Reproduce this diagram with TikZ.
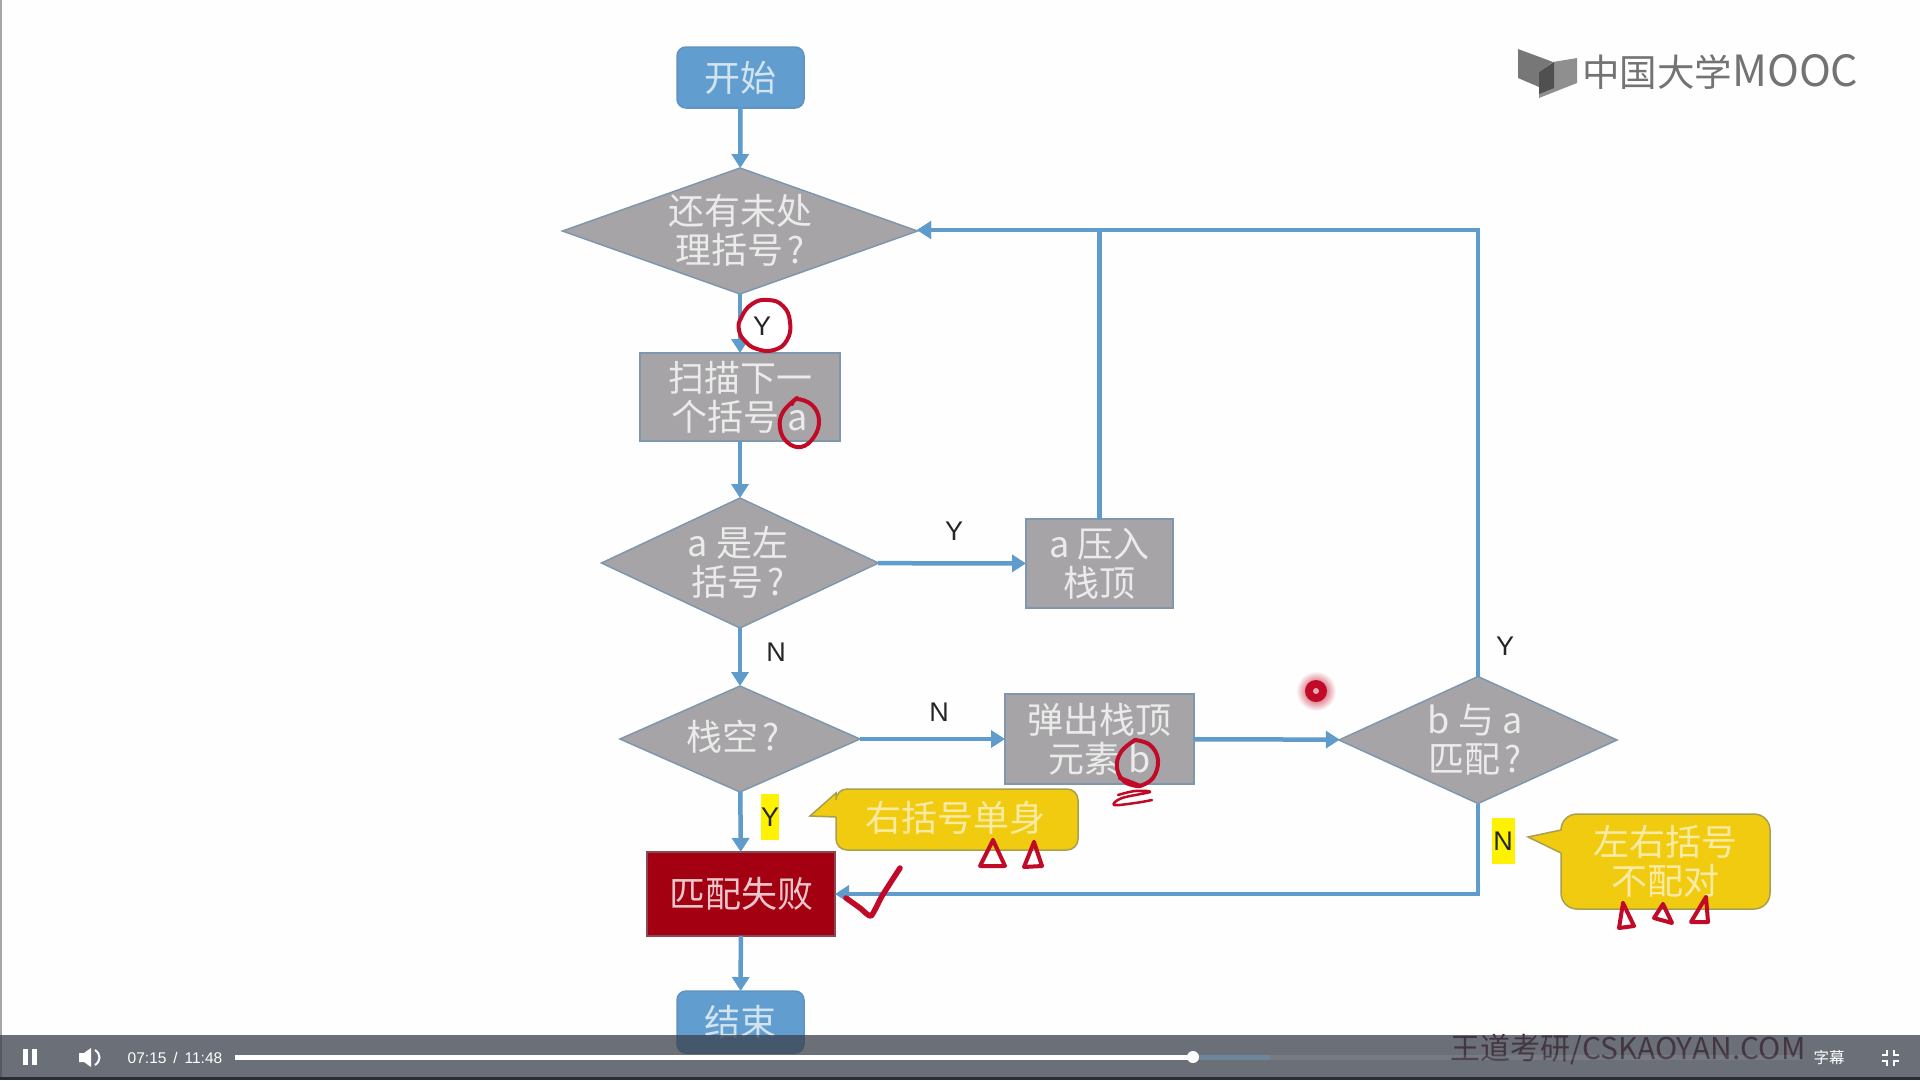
\documentclass[tikz,border=0pt]{standalone}
\usepackage{fontspec}
\setmainfont{Noto Sans CJK SC}
\newfontfamily\latinf{Liberation Sans}
\usetikzlibrary{shapes.geometric,arrows.meta,calc}
\definecolor{flowblue}{HTML}{5F9BCB}
\definecolor{nodegray}{HTML}{A6A4A6}
\definecolor{edgeblue}{HTML}{7E97AE}
\definecolor{termblue}{HTML}{619ECF}
\definecolor{termedge}{HTML}{5E93C2}
\definecolor{failred}{HTML}{A30012}
\definecolor{failedge}{HTML}{8A4A55}
\definecolor{callfill}{HTML}{F1CB10}
\definecolor{calledge}{HTML}{A8A050}
\definecolor{ink}{HTML}{C00A28}
\definecolor{barc}{HTML}{3B404B}
\definecolor{wmark}{HTML}{5E1824}
\definecolor{pagebg}{HTML}{FEFEFE}
\definecolor{logoa}{HTML}{777777}
\definecolor{logob}{HTML}{8F8F8F}
\definecolor{logoc}{HTML}{505050}
\newcommand{\qgap}{\hspace{4pt}}
\tikzset{
  x=1pt,y=-1pt,
  base/.style={inner sep=0pt,outer sep=0pt,align=center,font=\fontsize{36}{39}\selectfont},
  graybox/.style={base,rectangle,draw=edgeblue,line width=1.5pt,fill=nodegray,text=white!78!nodegray},
  dia/.style={shape=diamond,inner sep=0pt,outer sep=0pt,draw=edgeblue,line width=1.5pt,fill=nodegray},
  diatext/.style={base,text=white!78!nodegray},
  term/.style={base,rectangle,rounded corners=9pt,draw=termedge,line width=1.5pt,fill=termblue,text=white!72!termblue},
  failbox/.style={base,rectangle,draw=failedge,line width=1.5pt,fill=failred,text=white!78!failred},
  flow/.style={draw=flowblue,line width=4.5pt,-{Triangle[width=17pt,length=14pt]}},
  lab/.style={inner sep=0pt,font=\latinf\fontsize{27}{27}\selectfont,text=black!85},
  hilite/.style={fill=yellow,minimum width=#1,minimum height=46pt,inner sep=0pt,font=\latinf\fontsize{27}{27}\selectfont,text=black!85},
  callshape/.style={fill=callfill,draw=calledge,line width=1.5pt},
  calltext/.style={base,text=white!62!callfill},
  inkline/.style={draw=ink,line width=4pt,line cap=round,line join=round},
  ctl/.style={inner sep=0pt,text=white,font=\latinf\fontsize{15.5}{16}\selectfont},
}
\begin{document}
\begin{tikzpicture}
\useasboundingbox (0,0) rectangle (1920,1080);
\fill[pagebg] (0,0) rectangle (1920,1080);
\fill[gray!70] (0,0) rectangle (2,1080);
% logo
\fill[logoa] (1518,49)--(1553,62)--(1539,72)--(1539,87)--(1518,78)--cycle;
\fill[logob] (1553,62)--(1577,58)--(1577,83)--(1539,98)--(1539,72)--cycle;
\fill[logoc] (1539,72)--(1554,62)--(1554,88)--(1539,94)--cycle;
\node[inner sep=0pt,anchor=west,text=black!55,font=\fontsize{37.5}{38}\selectfont] (logotext) at (1582,72) {中国大学{\fontsize{43}{38}\selectfont MOOC}};
% nodes
\node[term,minimum width=127pt,minimum height=61pt] (start) at (740.5,77.5) {开始};
\node[dia,minimum width=355pt,minimum height=126pt,aspect=2.82] (d1) at (740,231) {};
\node[diatext] (d1t) at (740,230) {还有未处\\理括号\qgap ?};
\node[graybox,minimum width=200pt,minimum height=88pt] (scan) at (740,397) {扫描下一\\个括号 a};
\node[dia,minimum width=277pt,minimum height=130pt,aspect=2.13] (d2) at (740,563) {};
\node[diatext] (d2t) at (738,562) {a 是左\\括号\qgap ?};
\node[graybox,minimum width=147pt,minimum height=89pt] (push) at (1099.5,563.5) {a 压入\\栈顶};
\node[dia,minimum width=240pt,minimum height=106pt,aspect=2.26] (d3) at (740,739) {};
\node[diatext] (d3t) at (733,737) {栈空\qgap ?};
\node[graybox,minimum width=189pt,minimum height=90pt] (pop) at (1099.5,739) {弹出栈顶\\元素 b};
\node[dia,minimum width=278pt,minimum height=127pt,aspect=2.19] (d4) at (1478,740) {};
\node[diatext] (d4t) at (1475,740) {b 与 a\\匹配\qgap ?};
\node[failbox,minimum width=188pt,minimum height=84pt] (fail) at (741,894) {匹配失败};
\node[term,minimum width=127pt,minimum height=62pt] (end) at (740.5,1022) {结束};
% connectors
\coordinate (d1in) at (917,230);
\coordinate (failin) at (835,894);
\draw[flow] (start) -- (d1);
\draw[flow] (d1) -- (scan);
\draw[flow] (scan) -- (d2);
\draw[flow] (d2) -- (push);
\draw[flow] (d2) -- (d3);
\draw[flow] (d3) -- (pop);
\draw[flow] (pop) -- (d4);
\draw[flow] (d3) -- (fail);
\draw[flow] (fail) -- (end);
\draw[flow] (push.north) |- (d1in);
\draw[flow] (d4.north) |- (d1in);
\draw[flow] (d4.south) |- (failin);
% labels
\node[lab] (ly2) at (954,531) {Y};
\node[lab] (ln1) at (776,652) {N};
\node[lab] (ln2) at (939,712) {N};
\node[lab] (ly3) at (1505,646) {Y};
\node[hilite=18pt] (ly4) at (770,817) {Y};
\node[hilite=23pt] (ln3) at (1503,841) {N};
% callouts
\draw[callshape] (836,817) [sharp corners] -- (810,816) -- (836,793) [rounded corners=11pt] -- (836,789) -- (1078,789) -- (1078,850) -- (836,850) -- (836,817);
\node[calltext] (c1) at (955,818) {右括号单身};
\draw[callshape] (1561,853) [sharp corners] -- (1528,837) -- (1561,830) [rounded corners=16pt] -- (1561,814) -- (1770,814) -- (1770,909) -- (1561,909) -- (1561,853);
\node[calltext] (c2) at (1665,861) {左右括号\\不配对};
% handwritten marks
\filldraw[inkline,fill=white] plot[smooth cycle,tension=.8] coordinates {(741,318) (752,304) (768,300) (783,306) (790,322) (787,340) (774,350) (757,349) (745,341) (739,330)};
\node[lab] (ly1) at (762,326) {Y};
\draw[inkline] plot[smooth,tension=.7] coordinates {(797,398) (783,412) (780,428) (787,442) (801,447) (814,437) (819,420) (812,405) (797,399) (792,404)};
\draw[inkline] plot[smooth,tension=.7] coordinates {(1135,740) (1121,752) (1117,768) (1125,782) (1140,786) (1120,778)};
\draw[inkline] plot[smooth,tension=.7] coordinates {(1135,740) (1150,745) (1158,760) (1153,778) (1140,786)};
\draw[inkline,line width=2.5pt] plot[smooth,tension=.6] coordinates {(1118,795) (1135,791) (1150,792) (1122,798) (1114,805) (1135,803) (1152,800)};
\draw[inkline] (993,840) -- (1005,866) -- (980,866) -- (993,840);
\draw[inkline] (1034,842) -- (1042,866) -- (1024,867) -- (1034,842);
\draw[inkline] (1623,903) -- (1634,926) -- (1619,928) -- (1623,903);
\draw[inkline] (1663,904) -- (1672,923) -- (1654,918) -- (1663,904);
\draw[inkline] (1706,897) -- (1708,922) -- (1691,922) -- (1706,897);
\draw[inkline,line width=5.5pt] plot[smooth,tension=.3] coordinates {(846,898) (860,908) (871,916) (882,896) (900,868)};
% laser pointer
\shade[inner color=ink,outer color=pagebg] (1316,691) circle (20);
\fill[ink] (1316,691) circle (11);
\fill[white!65!ink] (1316,691) circle (3);
% player bar
\node[inner sep=0pt,text=wmark,font=\fontsize{30}{30}\selectfont] (wm) at (1628,1050) {王道考研/CSKAOYAN.COM};
\fill[barc,opacity=.75] (0,1035) rectangle (1920,1080);
\fill[barc!70!black] (0,1077) rectangle (1920,1080);
\fill[white,opacity=.08] (1193,1055) rectangle (1800,1060);
\fill[flowblue!70!gray,opacity=.5] (1193,1055) rectangle (1270,1060);
\fill[white] (235,1054.5) rectangle (1193,1059.5);
\fill[white] (1193,1057) circle (6);
\fill[white] (23,1049) rectangle (27.5,1065);
\fill[white] (32,1049) rectangle (37,1065);
\fill[white] (79,1053) -- (84,1053) -- (91,1048) -- (91,1067) -- (84,1062) -- (79,1062) -- cycle;
\draw[white,line width=2pt] (95,1050) .. controls (101,1054) and (101,1061) .. (95,1065);
\node[ctl] (time) at (175,1058) {07:15 \,/\, 11:48};
\node[inner sep=0pt,text=white,font=\fontsize{15.5}{16}\selectfont] (sub) at (1829,1058) {字幕};
\draw[white,line width=2.5pt] (1887,1050) -- (1887,1055) -- (1882,1055);
\draw[white,line width=2.5pt] (1894,1050) -- (1894,1055) -- (1899,1055);
\draw[white,line width=2.5pt] (1887,1066) -- (1887,1061) -- (1882,1061);
\draw[white,line width=2.5pt] (1894,1066) -- (1894,1061) -- (1899,1061);
\end{tikzpicture}
\end{document}
